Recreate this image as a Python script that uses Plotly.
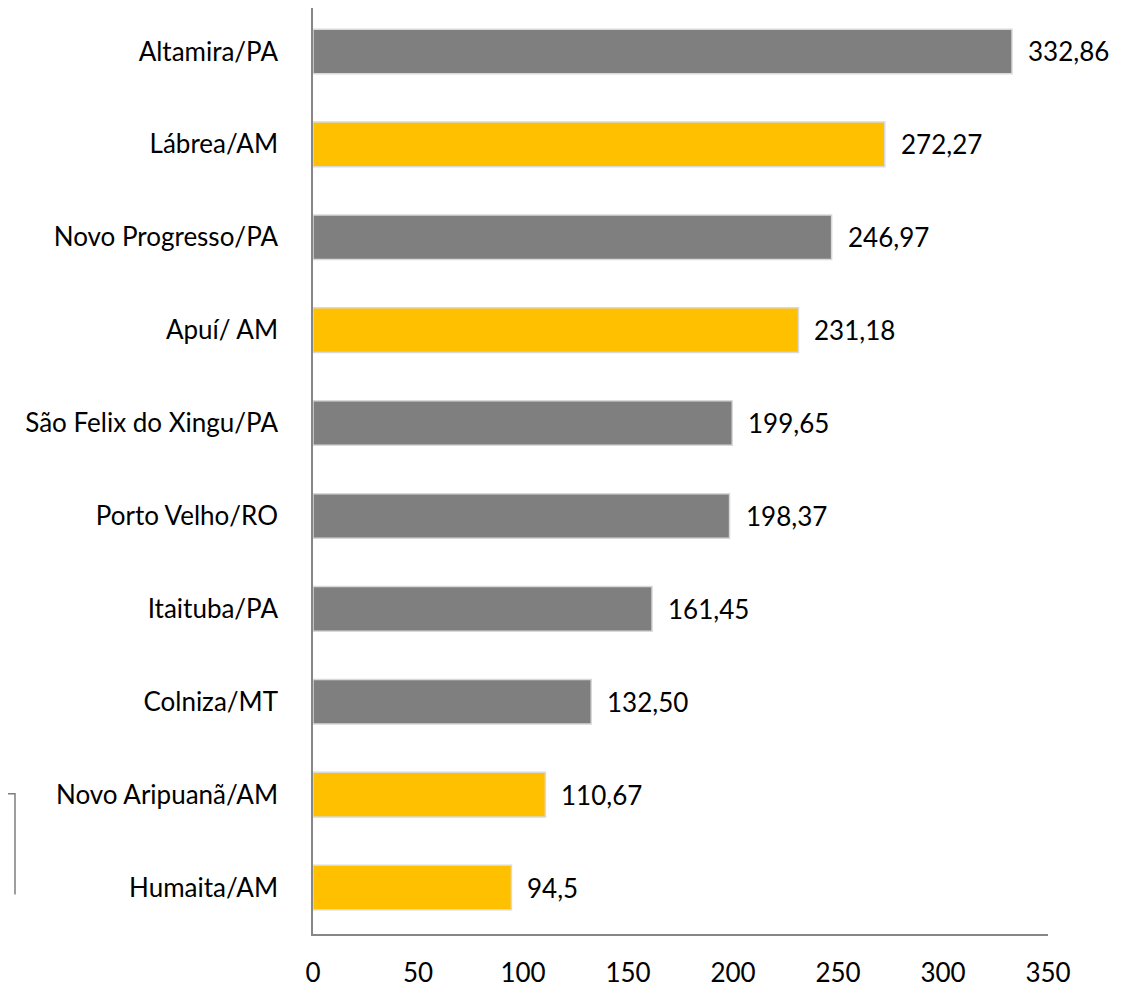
import plotly.graph_objects as go

categories = ["Altamira/PA", "Lábrea/AM", "Novo Progresso/PA", "Apuí/ AM",
              "São Felix do Xingu/PA", "Porto Velho/RO", "Itaituba/PA",
              "Colniza/MT", "Novo Aripuanã/AM", "Humaita/AM"]
values = [332.86, 272.27, 246.97, 231.18, 199.65, 198.37, 161.45, 132.50, 110.67, 94.5]
value_labels = ["332,86", "272,27", "246,97", "231,18", "199,65", "198,37",
                "161,45", "132,50", "110,67", "94,5"]
is_am = [False, True, False, True, False, False, False, False, True, True]
x_ticks = [0, 50, 100, 150, 200, 250, 300, 350]

GRAY = "#7f7f7f"
GOLD = "#ffc000"
colors = [GOLD if a else GRAY for a in is_am]

FONT = "Lato"
FS = 26

fig = go.Figure()
fig.add_trace(go.Bar(
    y=categories, x=values, orientation="h",
    marker=dict(color=colors, line=dict(color="#d9d9d9", width=1.5)),
    hoverinfo="skip",
))

for c, v, t in zip(categories, values, value_labels):
    fig.add_annotation(x=v, y=c, text=t, showarrow=False, xanchor="left",
                       yanchor="middle", xshift=14,
                       font=dict(family=FONT, size=FS, color="#000000"))

# page offset (body margin) of 8px
OFF = 8
W, H = 1132 - 2 * OFF, 996 - 2 * OFF
L, R, T, B = 313 - OFF, 84 - OFF, 0, 51 - OFF
pw, ph = W - L - R, H - T - B

def px(xp):
    return (xp - OFF - L) / pw

def py(yp):
    return (H - B - (yp - OFF)) / ph

# decorative bracket at lower left
fig.add_shape(type="path",
              path=f"M {px(0)} {py(803)} L {px(15)} {py(803)} L {px(15)} {py(905)}",
              xref="paper", yref="paper",
              line=dict(color="#7f7f7f", width=1.5))

fig.update_layout(
    width=W, height=H,
    margin=dict(l=L, r=R, t=T, b=B, pad=0),
    paper_bgcolor="white", plot_bgcolor="white",
    bargap=0.52,
    showlegend=False,
    font=dict(family=FONT, size=FS, color="#000000"),
    xaxis=dict(range=[0, 350], tickvals=x_ticks, ticktext=[str(v) for v in x_ticks],
               showgrid=False, zeroline=False, showline=True,
               linecolor="#868686", linewidth=1.5, ticks="",
               ticklabelstandoff=15,
               tickfont=dict(family=FONT, size=FS, color="#000000")),
    yaxis=dict(categoryorder="array", categoryarray=categories[::-1],
               range=[-0.5, 9.468],
               showgrid=False, zeroline=False, showline=True,
               linecolor="#868686", linewidth=1.5, ticks="",
               ticklabelstandoff=28,
               tickfont=dict(family=FONT, size=FS, color="#000000")),
)

fig.write_html("out.html")
